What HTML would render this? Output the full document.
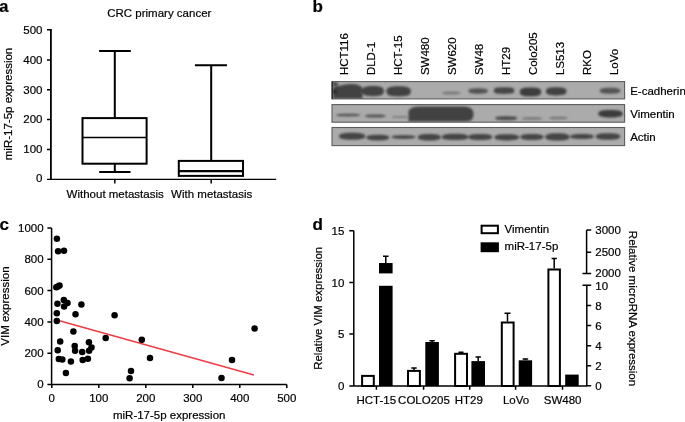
<!DOCTYPE html>
<html><head><meta charset="utf-8">
<style>
html,body{margin:0;padding:0;background:#fff;width:685px;height:422px;overflow:hidden}
svg{display:block;will-change:transform;filter:blur(0.3px)}
text{font-family:"Liberation Sans",sans-serif;font-size:11.5px;fill:#000;stroke:#000;stroke-width:0.2px}
.b{font-weight:bold;font-size:17px;fill:#000}
.ln{stroke:#000;fill:none}
</style></head><body>
<svg width="685" height="422" viewBox="0 0 685 422">
<defs>
<filter id="bl1" x="-50%" y="-100%" width="200%" height="300%"><feGaussianBlur stdDeviation="1"/></filter>
<filter id="bl2" x="-50%" y="-100%" width="200%" height="300%"><feGaussianBlur stdDeviation="0.8"/></filter>
<clipPath id="s1"><rect x="332" y="81.6" width="292.6" height="17.3"/></clipPath>
<clipPath id="s2"><rect x="332" y="104.6" width="292.6" height="17.6"/></clipPath>
<clipPath id="s3"><rect x="332" y="127.5" width="292.6" height="18.1"/></clipPath>
</defs>

<!-- ===== Panel a ===== -->
<text class="b" x="-0.8" y="12.3" style="font-size:16.5px">a</text>
<text x="159.3" y="16.5" text-anchor="middle">CRC primary cancer</text>
<g class="ln" stroke-width="1.5">
<path d="M47 29.7H50.8M47 59.9H50.8M47 89.8H50.8M47 119.6H50.8M47 149.5H50.8M114.8 179.3V183.5M211.2 179.3V183.5"/>
<path d="M50.9 29V179.3" stroke-width="1.8"/>
<path d="M47 179.3H276.2" stroke-width="1.3"/>
</g>
<g text-anchor="end">
<text x="42.5" y="34.0">500</text>
<text x="42.5" y="63.5">400</text>
<text x="42.5" y="93.5">300</text>
<text x="42.5" y="123.0">200</text>
<text x="42.5" y="152.5">100</text>
<text x="42.5" y="181.7">0</text>
</g>
<text transform="translate(12.2,104) rotate(-90)" text-anchor="middle">miR-17-5p expression</text>
<!-- box 1 -->
<g class="ln" stroke-width="2">
<rect x="82.5" y="118.1" width="64.1" height="45.6"/>
<path d="M114.8 118.1V51.1M99.1 51.1H130.8M114.8 163.7V172M99.2 172H130.5"/>
</g>
<path class="ln" stroke-width="1.3" d="M82.5 137.5H146.6"/>
<!-- box 2 -->
<g class="ln" stroke-width="2">
<rect x="178.8" y="160.9" width="64.2" height="15"/>
<path d="M211.2 160.9V65.3M194.9 65.3H227"/>
</g>
<path class="ln" stroke-width="2.2" d="M178.8 171.2H243"/>
<text x="115.2" y="198" text-anchor="middle">Without metastasis</text>
<text x="211.7" y="197.5" text-anchor="middle">With metastasis</text>

<!-- ===== Panel b ===== -->
<text class="b" x="312.5" y="12.3">b</text>
<g>
<text transform="translate(348.4,75.1) rotate(-90)">HCT116</text>
<text transform="translate(375.0,75.1) rotate(-90)">DLD-1</text>
<text transform="translate(402.0,75.1) rotate(-90)">HCT-15</text>
<text transform="translate(428.9,75.1) rotate(-90)">SW480</text>
<text transform="translate(456.2,75.1) rotate(-90)">SW620</text>
<text transform="translate(482.9,75.1) rotate(-90)">SW48</text>
<text transform="translate(510.1,75.1) rotate(-90)">HT29</text>
<text transform="translate(537.4,75.1) rotate(-90)">Colo205</text>
<text transform="translate(563.7,75.1) rotate(-90)">LS513</text>
<text transform="translate(590.8,75.1) rotate(-90)">RKO</text>
<text transform="translate(617.7,75.1) rotate(-90)">LoVo</text>
</g>
<!-- strips -->
<rect x="332" y="81.6" width="292.6" height="17.3" fill="#ababab"/>
<rect x="332" y="104.6" width="292.6" height="17.6" fill="#ababab"/>
<rect x="332" y="127.5" width="292.6" height="18.1" fill="#ababab"/>
<g clip-path="url(#s1)"><g filter="url(#bl1)">
<rect x="332.5" y="82" width="6" height="8" fill="#7a7a7a"/>
<path d="M333 88.5 Q334.5 85.5 340 85.8 Q347 83.4 355 84.3 Q361 85.2 362.5 88 L362.5 98.8 L333 98.8Z" fill="#424242"/>
<ellipse cx="334.8" cy="83.8" rx="2.8" ry="1.1" fill="#111"/>
<ellipse cx="334.8" cy="91.7" rx="2.8" ry="1.1" fill="#111"/>
<path d="M362.10 91.10C362.10 87.53 364.28 86.00 373.00 86.00C381.72 86.00 383.90 87.53 383.90 91.10C383.90 94.67 381.72 96.20 373.00 96.20C364.28 96.20 362.10 94.67 362.10 91.10Z" fill="#424242"/>
<path d="M386.40 91.30C386.40 87.73 388.84 86.20 398.60 86.20C408.36 86.20 410.80 87.73 410.80 91.30C410.80 94.87 408.36 96.40 398.60 96.40C388.84 96.40 386.40 94.87 386.40 91.30Z" fill="#424242"/>
<path d="M441.90 92.90C441.90 92.08 443.30 91.40 451.20 91.40C459.10 91.40 460.50 92.08 460.50 92.90C460.50 93.73 459.10 94.40 451.20 94.40C443.30 94.40 441.90 93.73 441.90 92.90Z" fill="#7a7a7a"/>
<path d="M468.30 91.10C468.30 89.56 469.77 88.30 478.10 88.30C486.43 88.30 487.90 89.56 487.90 91.10C487.90 92.64 486.43 93.90 478.10 93.90C469.77 93.90 468.30 92.64 468.30 91.10Z" fill="#555555"/>
<path d="M493.90 90.60C493.90 87.96 494.92 87.30 504.10 87.30C513.28 87.30 514.30 87.96 514.30 90.60C514.30 93.24 513.28 93.90 504.10 93.90C494.92 93.90 493.90 93.24 493.90 90.60Z" fill="#464646"/>
<path d="M519.80 92.00C519.80 88.92 521.94 87.60 530.50 87.60C539.06 87.60 541.20 88.92 541.20 92.00C541.20 95.08 539.06 96.40 530.50 96.40C521.94 96.40 519.80 95.08 519.80 92.00Z" fill="#3e3e3e"/>
<path d="M545.90 91.30C545.90 88.43 547.96 87.20 556.20 87.20C564.44 87.20 566.50 88.43 566.50 91.30C566.50 94.17 564.44 95.40 556.20 95.40C547.96 95.40 545.90 94.17 545.90 91.30Z" fill="#434343"/>
<path d="M599.70 90.70C599.70 89.05 601.25 87.70 610.00 87.70C618.75 87.70 620.30 89.05 620.30 90.70C620.30 92.35 618.75 93.70 610.00 93.70C601.25 93.70 599.70 92.35 599.70 90.70Z" fill="#555555"/>
</g></g>
<g clip-path="url(#s2)"><g filter="url(#bl1)">
<path d="M336.20 115.10C336.20 114.33 338.00 113.70 348.20 113.70C358.40 113.70 360.20 114.33 360.20 115.10C360.20 115.87 358.40 116.50 348.20 116.50C338.00 116.50 336.20 115.87 336.20 115.10Z" fill="#555555"/>
<path d="M364.80 116.00C364.80 115.17 366.38 114.50 375.30 114.50C384.23 114.50 385.80 115.17 385.80 116.00C385.80 116.83 384.23 117.50 375.30 117.50C366.38 117.50 364.80 116.83 364.80 116.00Z" fill="#555555"/>
<path d="M391.50 117.00C391.50 116.39 392.77 115.90 400.00 115.90C407.23 115.90 408.50 116.39 408.50 117.00C408.50 117.61 407.23 118.10 400.00 118.10C392.77 118.10 391.50 117.61 391.50 117.00Z" fill="#808080"/>
<path d="M408.5 121.5 L408.5 111 Q410 106.5 420 106.4 L465 106.4 Q473.6 107 473.6 114 Q473.6 121.5 466 121.5Z" fill="#434343"/>
<path d="M495.20 118.20C495.20 117.10 496.85 116.20 506.20 116.20C515.55 116.20 517.20 117.10 517.20 118.20C517.20 119.30 515.55 120.20 506.20 120.20C496.85 120.20 495.20 119.30 495.20 118.20Z" fill="#4e4e4e"/>
<path d="M521.60 118.50C521.60 117.78 523.16 117.20 532.00 117.20C540.84 117.20 542.40 117.78 542.40 118.50C542.40 119.22 540.84 119.80 532.00 119.80C523.16 119.80 521.60 119.22 521.60 118.50Z" fill="#777777"/>
<path d="M549.00 118.00C549.00 117.28 550.39 116.70 558.30 116.70C566.20 116.70 567.60 117.28 567.60 118.00C567.60 118.72 566.20 119.30 558.30 119.30C550.39 119.30 549.00 118.72 549.00 118.00Z" fill="#777777"/>
<path d="M598.20 113.70C598.20 111.48 601.27 110.00 610.50 110.00C619.73 110.00 622.80 111.48 622.80 113.70C622.80 115.92 619.73 117.40 610.50 117.40C601.27 117.40 598.20 115.92 598.20 113.70Z" fill="#3a3a3a"/>
</g></g>
<g clip-path="url(#s3)"><g filter="url(#bl2)">
<path d="M339.00 136.30C339.00 134.55 340.97 132.80 352.10 132.80C363.24 132.80 365.20 134.55 365.20 136.30C365.20 138.05 363.24 139.80 352.10 139.80C340.97 139.80 339.00 138.05 339.00 136.30Z" fill="#454545"/>
<path d="M366.30 137.60C366.30 136.15 368.03 134.70 377.80 134.70C387.57 134.70 389.30 136.15 389.30 137.60C389.30 139.05 387.57 140.50 377.80 140.50C368.03 140.50 366.30 139.05 366.30 137.60Z" fill="#454545"/>
<path d="M391.50 137.10C391.50 136.15 393.30 135.20 403.50 135.20C413.70 135.20 415.50 136.15 415.50 137.10C415.50 138.05 413.70 139.00 403.50 139.00C393.30 139.00 391.50 138.05 391.50 137.10Z" fill="#454545"/>
<path d="M417.80 137.20C417.80 135.60 419.53 134.00 429.30 134.00C439.07 134.00 440.80 135.60 440.80 137.20C440.80 138.80 439.07 140.40 429.30 140.40C419.53 140.40 417.80 138.80 417.80 137.20Z" fill="#454545"/>
<path d="M441.90 136.90C441.90 135.35 443.87 133.80 455.00 133.80C466.13 133.80 468.10 135.35 468.10 136.90C468.10 138.45 466.13 140.00 455.00 140.00C443.87 140.00 441.90 138.45 441.90 136.90Z" fill="#454545"/>
<path d="M468.10 136.90C468.10 135.40 469.91 133.90 480.20 133.90C490.49 133.90 492.30 135.40 492.30 136.90C492.30 138.40 490.49 139.90 480.20 139.90C469.91 139.90 468.10 138.40 468.10 136.90Z" fill="#454545"/>
<path d="M494.50 137.30C494.50 135.75 496.35 134.20 506.80 134.20C517.25 134.20 519.10 135.75 519.10 137.30C519.10 138.85 517.25 140.40 506.80 140.40C496.35 140.40 494.50 138.85 494.50 137.30Z" fill="#454545"/>
<path d="M520.20 137.00C520.20 135.50 521.95 134.00 531.90 134.00C541.85 134.00 543.60 135.50 543.60 137.00C543.60 138.50 541.85 140.00 531.90 140.00C521.95 140.00 520.20 138.50 520.20 137.00Z" fill="#454545"/>
<path d="M545.20 136.90C545.20 135.10 547.03 133.30 557.40 133.30C567.77 133.30 569.60 135.10 569.60 136.90C569.60 138.70 567.77 140.50 557.40 140.50C547.03 140.50 545.20 138.70 545.20 136.90Z" fill="#454545"/>
<path d="M570.20 136.50C570.20 135.20 571.97 133.90 582.00 133.90C592.03 133.90 593.80 135.20 593.80 136.50C593.80 137.80 592.03 139.10 582.00 139.10C571.97 139.10 570.20 137.80 570.20 136.50Z" fill="#454545"/>
<path d="M595.80 136.50C595.80 134.85 597.63 133.20 608.00 133.20C618.37 133.20 620.20 134.85 620.20 136.50C620.20 138.15 618.37 139.80 608.00 139.80C597.63 139.80 595.80 138.15 595.80 136.50Z" fill="#454545"/>
</g></g>
<g fill="none" stroke="#5c5c5c" stroke-width="1.1">
<rect x="332" y="81.6" width="292.6" height="17.3"/>
<rect x="332" y="104.6" width="292.6" height="17.6"/>
<rect x="332" y="127.5" width="292.6" height="18.1"/>
</g>
<path d="M332.3 81.6V98.9" stroke="#2a2a2a" stroke-width="1.3"/>
<text x="630.2" y="95">E-cadherin</text>
<text x="630.2" y="118.2">Vimentin</text>
<text x="630.2" y="141.3">Actin</text>

<!-- ===== Panel c ===== -->
<text class="b" x="-0.5" y="230.3">c</text>
<g class="ln" stroke-width="1.5">
<path d="M51.6 228V384.7M47.4 228H51.6M47.4 259.3H51.6M47.4 290.6H51.6M47.4 321.9H51.6M47.4 353.2H51.6M47.4 384.5H286.8M51.8 384.5V388M98.8 384.5V388M145.8 384.5V388M192.8 384.5V388M239.8 384.5V388M286.8 384.5V388"/>
</g>
<g text-anchor="end">
<text x="43.6" y="232.1">1000</text>
<text x="43.6" y="263.4">800</text>
<text x="43.6" y="294.7">600</text>
<text x="43.6" y="326">400</text>
<text x="43.6" y="357.3">200</text>
<text x="43.6" y="387.9">0</text>
</g>
<g text-anchor="middle">
<text x="51.8" y="402">0</text>
<text x="98.8" y="402">100</text>
<text x="145.8" y="402">200</text>
<text x="192.8" y="402">300</text>
<text x="239.8" y="402">400</text>
<text x="286.8" y="402">500</text>
</g>
<text x="169.2" y="418.8" text-anchor="middle">miR-17-5p expression</text>
<text transform="translate(9.4,306.1) rotate(-90)" text-anchor="middle">VIM expression</text>
<path d="M58.5 320.6L253.9 374.9" stroke="#ef3c46" stroke-width="1.6" fill="none"/>
<g fill="#000">
<circle cx="56.9" cy="238.7" r="3.25"/><circle cx="58.1" cy="251.2" r="3.25"/><circle cx="64.0" cy="250.8" r="3.25"/>
<circle cx="56.3" cy="287.3" r="3.25"/><circle cx="59.5" cy="285.5" r="3.25"/><circle cx="57.9" cy="286.5" r="3.25"/>
<circle cx="57.4" cy="303.7" r="3.25"/><circle cx="63.8" cy="300.1" r="3.25"/><circle cx="67.5" cy="303.0" r="3.25"/>
<circle cx="64.1" cy="306.5" r="3.25"/><circle cx="81.4" cy="304.4" r="3.25"/><circle cx="56.8" cy="313.3" r="3.25"/>
<circle cx="75.5" cy="314.3" r="3.25"/><circle cx="114.6" cy="315.2" r="3.25"/><circle cx="56.8" cy="321.1" r="3.25"/>
<circle cx="73.4" cy="331.5" r="3.25"/><circle cx="105.7" cy="337.9" r="3.25"/><circle cx="60.2" cy="341.5" r="3.25"/>
<circle cx="88.9" cy="342.2" r="3.25"/><circle cx="74.7" cy="346.0" r="3.25"/><circle cx="91.5" cy="347.4" r="3.25"/>
<circle cx="57.7" cy="350.3" r="3.25"/><circle cx="75.1" cy="350.7" r="3.25"/><circle cx="89.1" cy="350.7" r="3.25"/>
<circle cx="82.2" cy="352.1" r="3.25"/><circle cx="58.8" cy="358.9" r="3.25"/><circle cx="62.3" cy="359.5" r="3.25"/>
<circle cx="70.9" cy="361.6" r="3.25"/><circle cx="82.7" cy="359.9" r="3.25"/><circle cx="87.9" cy="358.8" r="3.25"/>
<circle cx="65.9" cy="373.0" r="3.25"/><circle cx="141.8" cy="339.7" r="3.25"/><circle cx="150.0" cy="357.9" r="3.25"/>
<circle cx="131.0" cy="371.0" r="3.25"/><circle cx="129.6" cy="378.2" r="3.25"/><circle cx="232.0" cy="360.0" r="3.25"/>
<circle cx="254.6" cy="328.4" r="3.25"/><circle cx="221.5" cy="378.0" r="3.25"/>
</g>

<!-- ===== Panel d ===== -->
<text class="b" x="312.5" y="230.4">d</text>
<g class="ln" stroke-width="1.5">
<path d="M353.8 230.7V386M349.3 230.7H353.8M349.3 282.4H353.8M349.3 334.1H353.8M349.3 386H587"/>
<path d="M376.4 386V389.8M423.6 386V389.8M469.7 386V389.8M515.6 386V389.8M562.5 386V389.8"/>
<path d="M586.6 230.1V273.4M586.6 230.1H591.2M586.6 252.2H591.2M582.5 273.4H591.2"/>
<path d="M586.8 285.3V386M582.5 285.3H591.2M586.8 305.5H591.2M586.8 325.6H591.2M586.8 345.7H591.2M586.8 365.8H591.2M586.8 385.8H591.2"/>
</g>
<g text-anchor="end">
<text x="344.3" y="234.8">15</text>
<text x="344.3" y="286.5">10</text>
<text x="344.3" y="338.2">5</text>
<text x="344.3" y="389.9">0</text>
</g>
<g>
<text x="595.3" y="234.3">3000</text>
<text x="595.3" y="255.9">2500</text>
<text x="595.3" y="276.5">2000</text>
<text x="595.3" y="290.2">10</text>
<text x="595.3" y="309.6">8</text>
<text x="595.3" y="329.7">6</text>
<text x="595.3" y="349.8">4</text>
<text x="595.3" y="369.9">2</text>
<text x="595.3" y="390">0</text>
</g>
<text transform="translate(321.8,308.3) rotate(-90)" text-anchor="middle" style="font-size:11.4px">Relative VIM expression</text>
<text transform="translate(628.5,308.5) rotate(90)" text-anchor="middle">Relative microRNA expression</text>
<!-- bars -->
<g fill="#fff" stroke="#000" stroke-width="2">
<rect x="362.1" y="375.9" width="11.7" height="10.1"/>
<rect x="408.0" y="370.9" width="11.9" height="15.1"/>
<rect x="455.1" y="353.8" width="11.9" height="32.2"/>
<rect x="501.8" y="322.5" width="11.8" height="63.5"/>
<rect x="548.4" y="269.5" width="11.5" height="116.5"/>
</g>
<g fill="#000">
<rect x="379" y="263" width="13.6" height="10.4"/>
<rect x="379" y="285.8" width="13.6" height="100.2"/>
<rect x="425.3" y="342" width="13.6" height="44.0"/>
<rect x="471.4" y="361.1" width="13.6" height="24.9"/>
<rect x="518.7" y="360.3" width="13.4" height="25.7"/>
<rect x="565.2" y="374.6" width="13.5" height="11.4"/>
</g>
<g class="ln" stroke-width="1.5">
<path d="M385.8 263V256.2M383.0 256.2H388.6M414.0 369.9V368.1M411.3 368.1H416.7M432.1 342V340.7M429.4 340.7H434.8M461.0 352.8V352.2M458.5 352.2H463.5M478.2 361.1V357M475.5 357H480.9M507.5 321.5V313.2M504.5 313.2H510.5M525.4 360.3V359M522.6 359H528.2M554.2 268.5V258.4M551.6 258.4H556.8"/>
</g>
<g text-anchor="middle">
<text x="376.3" y="404">HCT-15</text>
<text x="424" y="404">COLO205</text>
<text x="468.8" y="404">HT29</text>
<text x="516" y="404">LoVo</text>
<text x="562.6" y="404">SW480</text>
</g>
<rect x="481.6" y="225.7" width="16.3" height="7.5" fill="#fff" stroke="#000" stroke-width="2"/>
<rect x="480.6" y="242.3" width="18.3" height="9.9" fill="#000"/>
<text x="504.6" y="233.3">Vimentin</text>
<text x="504.6" y="250.3">miR-17-5p</text>
</svg>
</body></html>
